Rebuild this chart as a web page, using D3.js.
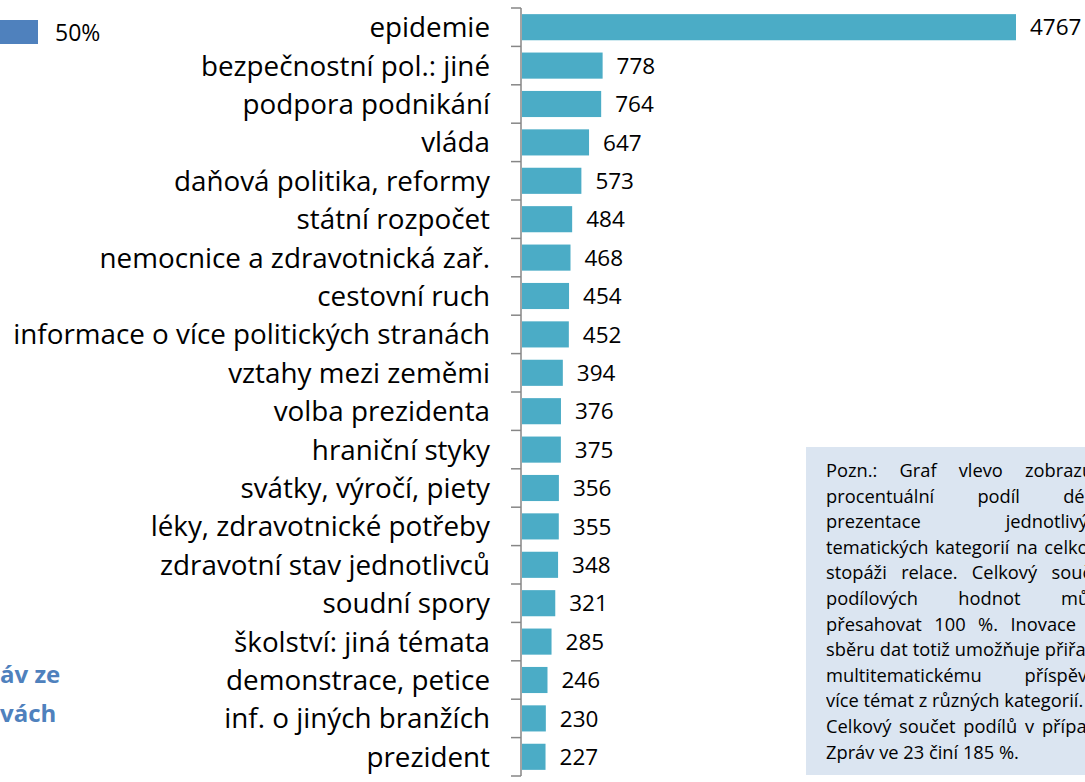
<!DOCTYPE html>
<html>
<head>
<meta charset="utf-8">
<script src="https://d3js.org/d3.v7.min.js"></script>
<style>
  body { margin: 0; background: #fff; }
  svg { display: block; font-family: "Open Sans", Lato, sans-serif; }
  .note div { text-align: justify; text-align-last: justify; white-space: nowrap; }
  .note div.last { text-align-last: left; }
</style>
</head>
<body>
<div id="chart"></div>
<script>
const width = 1085;
const height = 782;

const categories = [
  "epidemie", "bezpečnostní pol.: jiné", "podpora podnikání", "vláda",
  "daňová politika, reformy", "státní rozpočet", "nemocnice a zdravotnická zař.",
  "cestovní ruch", "informace o více politických stranách", "vztahy mezi zeměmi",
  "volba prezidenta", "hraniční styky", "svátky, výročí, piety",
  "léky, zdravotnické potřeby", "zdravotní stav jednotlivců", "soudní spory",
  "školství: jiná témata", "demonstrace, petice", "inf. o jiných branžích", "prezident"
];
const values = [4767, 778, 764, 647, 573, 484, 468, 454, 452, 394, 376, 375, 356, 355, 348, 321, 285, 246, 230, 227];

const noteLines = [
  "Pozn.: Graf vlevo zobrazuje",
  "procentuální podíl délky",
  "prezentace jednotlivých",
  "tematických kategorií na celkové",
  "stopáži relace. Celkový součet",
  "podílových hodnot může",
  "přesahovat 100 %. Inovace ve",
  "sběru dat totiž umožňuje přiřadit",
  "multitematickému příspěvku",
  "více témat z různých kategorií.",
  "Celkový součet podílů v případě",
  "Zpráv ve 23 činí 185 %."
];
// lines that end a paragraph are not stretched
const paragraphEnds = [9, 11];

const svg = d3.select("#chart")
  .append("svg")
  .attr("width", width)
  .attr("height", height);

const axisX = 521;

const x = d3.scaleLinear()
  .domain([0, d3.max(values)])
  .range([axisX + 1, 1016]);

const y = d3.scaleBand()
  .domain(categories)
  .range([8, 776])
  .paddingInner(0.32)
  .paddingOuter(0.16);

// cut-off pieces of the neighbouring chart on the left
svg.append("rect")
  .attr("x", -10).attr("y", 20)
  .attr("width", 48).attr("height", 24)
  .attr("fill", "#4f81bd");
svg.append("text")
  .attr("x", 55).attr("y", 41)
  .attr("font-size", 23)
  .attr("fill", "#000")
  .text("50%");
svg.append("text")
  .attr("x", 0).attr("y", 683)
  .attr("font-size", 24).attr("font-weight", "bold")
  .attr("fill", "#4f81bd")
  .text("áv ze");
svg.append("text")
  .attr("x", 0).attr("y", 722)
  .attr("font-size", 24).attr("font-weight", "bold")
  .attr("fill", "#4f81bd")
  .text("vách");

// bars
svg.selectAll(".bar")
  .data(values)
  .enter()
  .append("rect")
  .attr("class", "bar")
  .attr("x", x(0))
  .attr("y", (d, i) => y(categories[i]))
  .attr("width", d => x(d) - x(0))
  .attr("height", y.bandwidth())
  .attr("fill", "#4bacc6");

// value labels
svg.selectAll(".val")
  .data(values)
  .enter()
  .append("text")
  .attr("class", "val")
  .attr("x", d => x(d) + 14)
  .attr("y", (d, i) => y(categories[i]) + y.bandwidth() / 2)
  .attr("dy", "0.36em")
  .attr("font-size", 22.5)
  .attr("fill", "#000")
  .text(d => d);

// category labels
svg.selectAll(".cat")
  .data(categories)
  .enter()
  .append("text")
  .attr("class", "cat")
  .attr("x", axisX - 31)
  .attr("y", d => y(d) + y.bandwidth() / 2)
  .attr("dy", "0.36em")
  .attr("text-anchor", "end")
  .attr("font-size", 27.8)
  .attr("fill", "#000")
  .text(d => d);

// axis, ticks sit between the categories
const step = y.step();
const bounds = d3.range(categories.length + 1).map(i => y.range()[0] + i * step);
const axisG = svg.append("g").attr("stroke", "#868686").attr("stroke-width", 1.5);
axisG.append("line")
  .attr("x1", axisX).attr("x2", axisX)
  .attr("y1", bounds[0]).attr("y2", bounds[bounds.length - 1]);
axisG.selectAll(".tick")
  .data(bounds)
  .enter()
  .append("line")
  .attr("x1", axisX - 10).attr("x2", axisX)
  .attr("y1", d => d).attr("y2", d => d);

// note box
svg.append("rect")
  .attr("x", 806).attr("y", 447)
  .attr("width", 340).attr("height", 328)
  .attr("fill", "#dbe5f1");

const fo = svg.append("foreignObject")
  .attr("x", 826).attr("y", 457)
  .attr("width", 330).attr("height", 320);

fo.append("xhtml:div")
  .attr("class", "note")
  .style("font-family", "'Open Sans', sans-serif")
  .style("font-size", "18.3px")
  .style("line-height", "25.6px")
  .style("color", "#000")
  .style("width", "282px")
  .html(noteLines.map((l, i) =>
    `<div class="${paragraphEnds.includes(i) ? "last" : ""}">${l}</div>`).join(""));
</script>
</body>
</html>
